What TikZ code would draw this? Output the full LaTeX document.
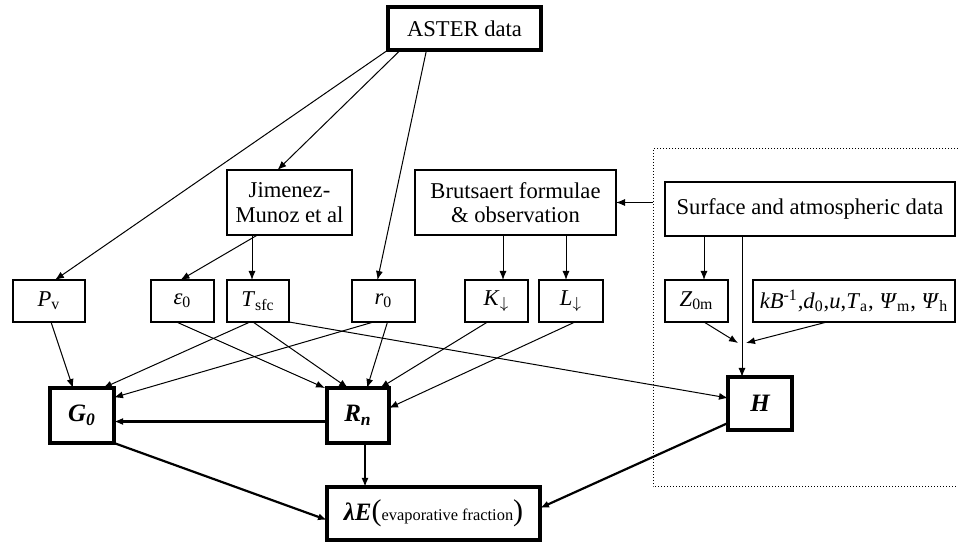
\documentclass[tikz,border=0pt]{standalone}
\usepackage{fontspec}
\setmainfont{Liberation Serif}
\usetikzlibrary{arrows.meta}

\begin{document}
\begin{tikzpicture}[x=0.5pt,y=-0.5pt,
    box/.style={draw,line width=0.6pt,inner sep=0pt,outer sep=0pt,align=center,
        font=\fontsize{11.3}{12.2}\selectfont},
    bigbox/.style={box,line width=1.6pt,font=\fontsize{12.5}{14}\selectfont\bfseries\itshape},
    flow/.style={->,line width=0.5pt},
    bigflow/.style={->,line width=1.1pt},
    >={Latex[length=4.5pt,width=3.5pt]}]

    \useasboundingbox (0,0) rectangle (958,544);

    % sources
    \node [box,line width=1.6pt,minimum width=76.5pt,minimum height=21.5pt] (aster) at (464.5,28.5) {ASTER data};
    \node [box,minimum width=62.5pt,minimum height=32.5pt] (jimenez) at (289.5,202.5) {Jimenez-\\Munoz et al};
    \node [box,minimum width=100.5pt,minimum height=32.5pt] (brutsaert) at (515.5,202.5) {Brutsaert formulae\\\& observation};
    \node [box,minimum width=145pt,minimum height=27pt] (surface) at (810,209) {Surface and atmospheric data};

    % variables
    \node [box,minimum width=36pt,minimum height=21pt] (pv) at (49,301) {\textit{P}\textsubscript{v}};
    \node [box,minimum width=31.5pt,minimum height=21pt] (eps) at (182.5,301) {\textit{ε}\textsubscript{0}};
    \node [box,minimum width=31pt,minimum height=21pt] (tsfc) at (258,301) {\textit{T}\textsubscript{sfc}};
    \node [box,minimum width=31.5pt,minimum height=21pt] (rzero) at (383.5,301) {\textit{r}\textsubscript{0}};
    \node [box,minimum width=31.5pt,minimum height=21pt] (kdown) at (496.5,301) {\textit{K}$_{\downarrow}$};
    \node [box,minimum width=32pt,minimum height=21pt] (ldown) at (571,301) {\textit{L}$_{\downarrow}$};
    \node [box,minimum width=31.5pt,minimum height=21pt] (zom) at (696.5,301) {\textit{Z}\textsubscript{0m}};
    \node [box,minimum width=101pt,minimum height=21pt] (kb) at (854,301)
        {\textit{kB}\textsuperscript{-1},\textit{d}\textsubscript{0},\textit{u},\textit{T}\textsubscript{a}, \textit{Ψ}\textsubscript{m}, \textit{Ψ}\textsubscript{h}};

    % fluxes
    \node [bigbox,minimum width=32pt,minimum height=27.5pt] (gzero) at (82,415.5) {G\textsubscript{0}};
    \node [bigbox,minimum width=31pt,minimum height=27.5pt] (rn) at (358,415.5) {R\textsubscript{n}};
    \node [bigbox,minimum width=32pt,minimum height=26.5pt] (h) at (760,403.5) {H};
    \node [bigbox,minimum width=106.5pt,minimum height=26.5pt] (le) at (433.5,513.5)
        {λE\textup{\mdseries\fontsize{15}{15}\selectfont(}\textup{\mdseries\fontsize{8.2}{10}\selectfont evaporative fraction}\textup{\mdseries\fontsize{15}{15}\selectfont)}};

    % dotted frame round the surface data
    \coordinate (frametop) at (958,149);
    \coordinate (framebot) at (958,487);
    \draw [densely dotted,line width=0.5pt] (frametop) -- (frametop -| 653,0) -- (framebot -| 653,0) -- (framebot);
    \coordinate (frameleft) at (653,202.5);
    \coordinate (meet) at (742,343);

    \draw [flow] (aster.south west) -- ([xshift=3pt]pv.north);
    \draw [flow] ([xshift=-32pt]aster.south) -- ([xshift=-6pt]jimenez.north);
    \draw [flow] ([xshift=-19pt]aster.south) -- ([xshift=-3pt]rzero.north);
    \draw [flow] ([xshift=-16pt]jimenez.south) -- ([xshift=-1pt]eps.north);
    \draw [flow] ([xshift=-3pt]tsfc.north |- jimenez.south) -- ([xshift=-3pt]tsfc.north);
    \draw [flow] ([xshift=3.25pt]kdown.north |- brutsaert.south) -- ([xshift=3.25pt]kdown.north);
    \draw [flow] ([xshift=-2.5pt]ldown.north |- brutsaert.south) -- ([xshift=-2.5pt]ldown.north);
    \draw [flow] (frameleft) -- (brutsaert.east);
    \draw [flow] ([xshift=3.75pt]zom.north |- surface.south) -- ([xshift=3.75pt]zom.north);
    \draw [flow] (meet |- surface.south) -- (meet |- h.north);
    \draw [flow] ([xshift=3.75pt]zom.south) -- ([xshift=-2pt]meet);
    \draw [flow] ([xshift=-13.5pt]kb.south) -- ([xshift=2pt]meet);

    \draw [flow] ([xshift=1pt]pv.south) -- ([xshift=-4.5pt]gzero.north);
    \draw [flow] ([xshift=-3pt]eps.south) -- ([xshift=-1pt]rn.north west);
    \draw [flow] ([xshift=-4pt]tsfc.south) -- ([xshift=10.5pt]gzero.north);
    \draw [flow] ([xshift=-2.5pt]tsfc.south) -- ([xshift=-5pt]rn.north);
    \draw [flow] (tsfc.south east) -- ([yshift=2.75pt]h.west);
    \draw [flow] ([xshift=-5pt]rzero.south) -- ([yshift=9pt]gzero.east);
    \draw [flow] ([xshift=2pt]rzero.south) -- ([xshift=4.5pt]rn.north);
    \draw [flow] ([xshift=-4.5pt]kdown.south) -- ([xshift=11pt]rn.north);
    \draw [flow] ([xshift=2pt]ldown.south) -- ([yshift=3.75pt]rn.east);

    \draw [bigflow] ([yshift=-3pt]rn.west) -- ([yshift=-3pt]gzero.east);
    \draw [bigflow] (gzero.south east) -- ([yshift=-3.25pt]le.west);
    \draw [bigflow] ([xshift=3.5pt]rn.south) -- ([xshift=3.5pt]rn.south |- le.north);
    \draw [bigflow] ([yshift=-9.75pt]h.west) -- ([yshift=2.75pt]le.east);

\end{tikzpicture}
\end{document}
